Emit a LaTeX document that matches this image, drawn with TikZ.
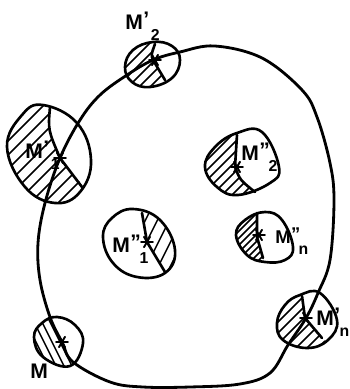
\documentclass[tikz,border=0pt]{standalone}
\usepackage{amsmath}
\usepackage{fontspec}
\setmainfont{Liberation Sans}
\usetikzlibrary{positioning, calc}
\tikzset{
  curveline/.style={line width=1.6pt, line cap=round, line join=round},
  blobline/.style={line width=1.5pt, line cap=round, line join=round},
  hatchline/.style={line width=0.85pt},
  pointmark/.style={line width=1.1pt, line cap=round},
  pointlabel/.style={anchor=base west, inner sep=0pt, font=\fontsize{12}{12}\selectfont\bfseries},
}
\newcommand{\emlabel}[3][4.5pt]{M\rlap{\kern0.3pt\raisebox{1.5pt}{#2}}\raisebox{-6.5pt}{\fontsize{9}{9}\selectfont\kern#1 #3}}
% hatching of a region: centre x, centre y, run in x, spacing, half length
\newcommand{\hatchfill}[5]{%
  \foreach \s in {-8,...,8}{
    \draw[hatchline] (#1+\s*#4-#3,#2+#5) -- (#1+\s*#4+#3,#2-#5);
  }
}
\begin{document}
\begin{tikzpicture}[x=0.02cm, y=-0.02cm]
  \useasboundingbox (0,0) rectangle (350,389);
  % Hatched parts
  \begin{scope}
    \clip plot[smooth cycle, tension=0.7] coordinates {(125,67) (133,50) (153,42) (172,46) (180,60) (172,78) (150,87) (132,82)};
    \clip (155,40) .. controls (151,55) .. (153,60) -- (167,84) -- (100,100) -- (100,30) -- cycle;
    \hatchfill{150}{65}{25}{11}{25}
  \end{scope}
  \begin{scope}
    \clip plot[smooth cycle, tension=0.7] coordinates {(43,105) (22,115) (7,147) (25,187) (55,203) (80,192) (91,160) (77,123)};
    \clip (50,100) .. controls (48,130) .. (60,158) -- (88,192) -- (60,220) -- (-10,200) -- (-10,90) -- cycle;
    \hatchfill{50}{155}{50}{14}{50}
  \end{scope}
  \begin{scope}
    \clip plot[smooth cycle, tension=0.7] coordinates {(205,167) (217,187) (238,195) (270,183) (279,167) (262,132) (237,133) (215,147)};
    \clip (237,125) -- (235,167) .. controls (240,180) .. (258,196) -- (190,210) -- (190,125) -- cycle;
    \hatchfill{222}{165}{30}{10}{30}
  \end{scope}
  \begin{scope}
    \clip plot[smooth cycle, tension=0.7] coordinates {(236,235) (245,220) (265,212) (282,220) (293,247) (285,260) (265,262) (247,255)};
    \clip (257,205) -- (257,237) -- (265,265) -- (225,270) -- (225,205) -- cycle;
    \hatchfill{247}{237}{25}{7}{25}
  \end{scope}
  \begin{scope}
    \clip plot[smooth cycle, tension=0.7] coordinates {(103,237) (112,218) (133,209) (160,220) (175,250) (165,273) (137,277) (113,263)};
    \clip (142,205) -- (147,242) -- (167,277) -- (190,280) -- (190,205) -- cycle;
    \hatchfill{158}{243}{18}{12}{36}
  \end{scope}
  \begin{scope}
    \clip plot[smooth cycle, tension=0.7] coordinates {(34,337) (42,323) (57,317) (75,325) (83,343) (70,366) (43,357)};
    \clip (48,312) -- (62,342) -- (76,368) -- (20,375) -- (20,312) -- cycle;
    \hatchfill{52}{342}{-15}{8}{30}
  \end{scope}
  \begin{scope}
    \clip plot[smooth cycle, tension=0.7] coordinates {(277,323) (285,305) (300,295) (320,293) (337,320) (328,340) (307,348) (283,340)};
    \clip (302,290) -- (305,318) -- (325,341) -- (320,355) -- (265,355) -- (265,290) -- cycle;
    \hatchfill{300}{322}{30}{11}{30}
  \end{scope}
  % Outlines of the discs
  \draw[blobline] plot[smooth cycle, tension=0.7] coordinates {(125,67) (133,50) (153,42) (172,46) (180,60) (172,78) (150,87) (132,82)};
  \draw[blobline] plot[smooth cycle, tension=0.7] coordinates {(43,105) (22,115) (7,147) (25,187) (55,203) (80,192) (91,160) (77,123)};
  \draw[blobline] plot[smooth cycle, tension=0.7] coordinates {(205,167) (217,187) (238,195) (270,183) (279,167) (262,132) (237,133) (215,147)};
  \draw[blobline] plot[smooth cycle, tension=0.7] coordinates {(236,235) (245,220) (265,212) (282,220) (293,247) (285,260) (265,262) (247,255)};
  \draw[blobline] plot[smooth cycle, tension=0.7] coordinates {(103,237) (112,218) (133,209) (160,220) (175,250) (165,273) (137,277) (113,263)};
  \draw[blobline] plot[smooth cycle, tension=0.7] coordinates {(34,337) (42,323) (57,317) (75,325) (83,343) (70,366) (43,357)};
  \draw[blobline] plot[smooth cycle, tension=0.7] coordinates {(277,323) (285,305) (300,295) (320,293) (337,320) (328,340) (307,348) (283,340)};
  % Dividing arcs
  \draw[blobline] (155,44) .. controls (151,55) .. (153,60) -- (165,80);
  \draw[blobline] (50,107) .. controls (48,130) .. (60,158) -- (82,187);
  \draw[blobline] (237,135) -- (235,167) .. controls (240,180) .. (255,192);
  \draw[blobline] (257,213) -- (257,237) -- (263,258);
  \draw[blobline] (142,213) -- (147,242) -- (165,272);
  \draw[blobline] (302,296) -- (305,318) -- (322,338);
  % Big closed curve
  \draw[curveline] plot[smooth cycle, tension=0.6] coordinates {(60,158) (80,120) (100,95) (127,75) (153,60) (180,52) (215,46) (262,58) (302,90) (317,117) (330,163) (334,200) (330,260) (318,293) (306,318) (288,345) (270,373) (240,384) (190,387) (143,387) (110,382) (73,362) (62,342) (50,317) (40,280) (38,243) (45,203)};
  % Points
  \foreach \nm/\px/\py in {pa/155/60, pb/60/158, pc/237/167, pd/259/235, pe/147/242, pf/62/342, pg/306/318}{
    \coordinate (\nm) at (\px,\py);
    \foreach \ang in {0,60,120}{
      \draw[pointmark] ($(\nm)+(\ang:6)$) -- ($(\nm)+(\ang+180:6)$);
    }
  }
  % Labels
  \node[pointlabel] (la) at (125,29) {\emlabel{'}{2}};
  \node[pointlabel] (lb) at (25,158) {\emlabel{'}{1}};
  \node[pointlabel] (lc) at (241,160) {\emlabel[5.5pt]{''}{2}};
  \node[pointlabel, font=\fontsize{10.5}{10.5}\selectfont\bfseries] (ld) at (275,243) {\emlabel{''}{n}};
  \node[pointlabel] (le) at (112,252) {\emlabel[5.5pt]{''}{1}};
  \node[pointlabel] (lf) at (30,378) {M};
  \node[pointlabel] (lg) at (316,325) {\emlabel[3.2pt]{'}{n}};
\end{tikzpicture}
\end{document}
